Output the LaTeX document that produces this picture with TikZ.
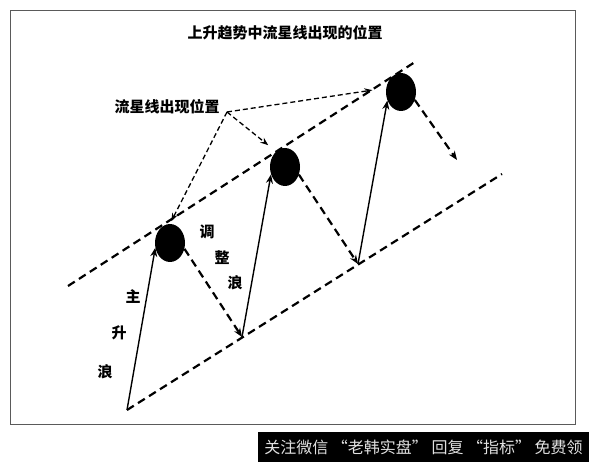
\documentclass[tikz,border=0pt]{standalone}
\usepackage{fontspec}
\usepackage{xcolor}
\usetikzlibrary{arrows.meta, shapes.geometric}
\newfontfamily\cjk{Noto Sans CJK SC}
\definecolor{framegray}{RGB}{90,90,90}
\definecolor{bannergray}{RGB}{225,225,225}

\begin{document}
\begin{tikzpicture}[
    x=1pt, y=-1pt,
    >={Stealth[length=9pt, width=7pt]},
    star/.style={ellipse, fill=black, minimum width=30pt, minimum height=38pt, inner sep=0pt},
    trendline/.style={line width=2.2pt, dash pattern=on 8pt off 5pt},
    waveup/.style={->, line width=1.4pt},
    wavedown/.style={->, line width=2.2pt, dash pattern=on 8pt off 5pt},
    pointer/.style={->, line width=1.3pt, dash pattern=on 5pt off 3pt, >={Stealth[length=8pt, width=6pt]}},
    cjklabel/.style={font=\cjk\bfseries\fontsize{15}{18}\selectfont, inner sep=0pt},
]
    \useasboundingbox (0,0) rectangle (589,462);
    \fill[white] (0,0) rectangle (589,462);
    \draw[framegray, line width=1pt] (10,11) rectangle (575,424);
    \node[fill=black, text=bannergray, minimum width=331pt, minimum height=30pt, inner sep=0pt,
          font=\cjk\fontsize{16}{18}\selectfont] (banner) at (423.5,447)
        {关注微信 “老韩实盘” 回复 “指标” 免费领};

    \node[cjklabel] (title) at (285,33) {上升趋势中流星线出现的位置};
    \node[cjklabel] (where) at (167,107) {流星线出现位置};

    \node[star] (c1) at (170,243) {};
    \node[star] (c2) at (285,167) {};
    \node[star] (c3) at (401,92) {};

    \coordinate (up1) at (68,286);
    \coordinate (up2) at (415,62);
    \coordinate (b1) at (127,410);
    \coordinate (b2) at (242,337);
    \coordinate (b3) at (358,264);
    \coordinate (low2) at (502,174);
    \coordinate (e3) at (457,160);
    \coordinate (src) at (227,112);

    \draw[trendline] (up1) -- (up2);
    \draw[trendline] (b1) -- (low2);

    \draw[waveup] (b1) -- (c1.198);
    \draw[waveup] (b2) -- (c2.208);
    \draw[waveup] (b3) -- (c3.212);
    \draw[wavedown] (c1.338) -- (b2);
    \draw[wavedown] (c2.331) -- (b3);
    \draw[wavedown] (c3.330) -- (e3);

    \draw[pointer, shorten >=3pt] (src) -- (c1.north);
    \draw[pointer, shorten >=10pt] (src) -- (c2.120);
    \draw[pointer, shorten >=14pt] (src) -- (c3.165);

    \node[cjklabel] (adj1) at (207,232) {调};
    \node[cjklabel] (adj2) at (222,258) {整};
    \node[cjklabel] (adj3) at (235,283) {浪};
    \node[cjklabel] (main1) at (133,297) {主};
    \node[cjklabel] (main2) at (119,333) {升};
    \node[cjklabel] (main3) at (105,372) {浪};
\end{tikzpicture}
\end{document}
